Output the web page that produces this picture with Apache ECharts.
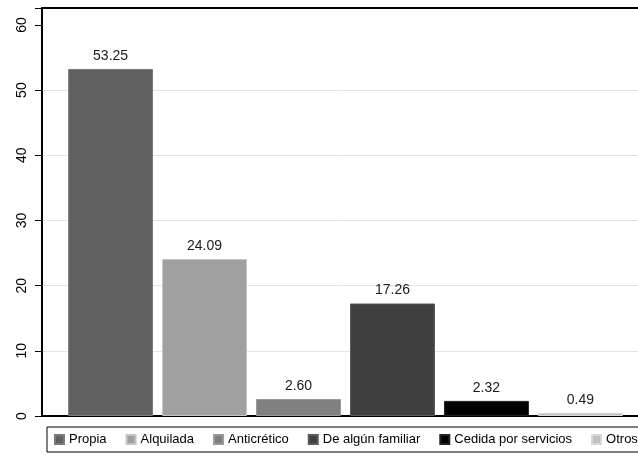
<!DOCTYPE html>
<html>
<head>
<meta charset="utf-8">
<script src="https://cdn.jsdelivr.net/npm/echarts@6/dist/echarts.min.js"></script>
<style>
html,body{margin:0;padding:0;background:#fff;}
#main{width:638px;height:455px;}
</style>
</head>
<body>
<div id="main"></div>
<script>
var categories = ['Propia', 'Alquilada', 'Anticrético', 'De algún familiar', 'Cedida por servicios', 'Otros'];
var values = [53.25, 24.09, 2.60, 17.26, 2.32, 0.49];
var barColors = ['#606060', '#a0a0a0', '#808080', '#404040', '#000000', '#c0c0c0'];
var barBorders = ['#7a7a7a', '#c4c4c4', '#999999', '#5a5a5a', '#222222', '#d8d8d8'];
var yTicks = [0, 10, 20, 30, 40, 50, 60];

var FONT = 'Liberation Sans, Arial, sans-serif';
var chart = echarts.init(document.getElementById('main'), null, {renderer: 'canvas'});

var series = categories.map(function (name, i) {
  return {
    name: name,
    type: 'bar',
    data: [values[i]],
    barGap: '10.6%',
    barCategoryGap: '8.6%',
    itemStyle: {color: barColors[i], borderColor: barBorders[i], borderWidth: 1},
    label: {
      show: true,
      position: 'top',
      distance: 6,
      fontFamily: FONT,
      fontSize: 14,
      color: '#1a1a1a',
      formatter: function (p) { return p.value.toFixed(2); }
    }
  };
});

var option = {
  backgroundColor: '#fff',
  animation: false,
  grid: {
    left: 42, top: 8, width: 607, bottom: 39,
    outerBoundsMode: 'none',
    show: true, borderColor: '#000', borderWidth: 2, containLabel: false
  },
  xAxis: {
    type: 'category',
    data: [''],
    axisLine: {show: true, lineStyle: {color: '#000', width: 2}},
    axisTick: {show: false},
    axisLabel: {show: false},
    splitLine: {show: false}
  },
  yAxis: {
    type: 'value',
    min: 0,
    max: 62.6,
    interval: 10,
    axisLine: {show: true, lineStyle: {color: '#000', width: 2}},
    axisTick: {show: true, length: 7, lineStyle: {color: '#000', width: 1}},
    axisLabel: {
      rotate: 90,
      margin: 13,
      fontFamily: FONT,
      fontSize: 14,
      color: '#000',
      formatter: function (v) { return yTicks.indexOf(v) >= 0 ? String(v) : ''; }
    },
    splitLine: {
      show: true,
      lineStyle: {color: ['#e4e4e4', '#e4e4e4', '#e4e4e4', '#e4e4e4', '#e4e4e4', '#e4e4e4', 'rgba(0,0,0,0)', 'rgba(0,0,0,0)'], width: 1}
    }
  },
  legend: {
    data: categories,
    left: 47,
    top: 427,
    width: 700,
    orient: 'horizontal',
    icon: 'rect',
    itemWidth: 9,
    itemHeight: 9,
    itemGap: 19,
    padding: [6, 10, 6, 7],
    borderColor: '#000',
    borderWidth: 1,
    selectedMode: false,
    textStyle: {fontFamily: FONT, fontSize: 13, color: '#000'}
  },
  series: series
};
chart.setOption(option);
</script>
</body>
</html>
